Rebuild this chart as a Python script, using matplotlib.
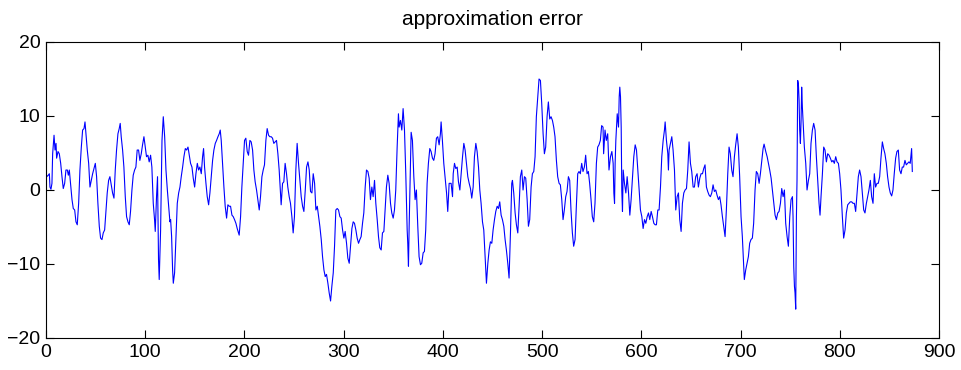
import matplotlib
matplotlib.use("Agg")
import matplotlib.pyplot as plt

# sample index
sample_x = [
0.7,2.3,3.4,4.0,5.0,6.0,6.7,8.1,9.1,10.1,10.7,12.1,13.4,14.8,16.1,17.4,18.8,20.1,21.5,22.5,23.5,24.8,26.2,27.5,28.9,30.2,31.5,32.9,34.2,35.6,36.9,38.3,39.3,40.3,41.6,43.0,44.3,45.6,47.0,48.3,49.7,51.0,52.3,53.7,55.0,56.4,57.7,59.1,60.4,61.7,63.1,64.4,65.8,67.1,68.5,69.8,71.1,72.5,73.8,74.8,75.8,77.2,78.5,79.9,81.2,82.6,83.9,85.2,86.6,87.9,89.3,90.6,91.9,93.3,94.6,96.0,97.3,98.7,100.0,101.3,102.7,104.0,105.4,106.7,108.1,109.4,110.1,111.4,112.4,113.4,114.1,
115.5,116.9,118.2,119.6,120.9,122.3,123.6,124.9,125.6,126.6,127.6,128.3,129.6,131.0,132.3,133.7,135.0,136.3,137.7,139.0,140.4,141.7,143.1,144.4,145.7,147.1,148.4,149.8,151.1,152.5,153.8,155.1,156.5,157.8,158.8,159.8,161.2,162.5,163.9,165.2,166.5,167.9,169.2,170.6,171.9,173.3,174.6,175.6,176.6,177.9,179.3,180.6,182.0,183.3,184.7,186.0,187.4,188.7,190.0,191.4,192.7,194.1,194.7,196.1,197.4,198.8,200.1,201.4,202.8,204.1,205.5,206.8,208.2,209.5,210.8,212.2,213.5,214.9,216.2,217.6,218.9,220.2,221.6,222.9,224.3,225.6,227.0,228.3,229.6,231.0,232.3,233.7,235.0,236.3,237.0,238.4,239.7,241.0,242.4,243.7,245.1,246.4,247.8,249.1,250.4,251.8,253.1,254.5,
257.2,258.6,259.9,261.3,262.6,264.0,265.3,266.6,268.0,269.3,270.7,272.0,273.4,274.7,276.0,277.4,278.7,280.1,281.4,282.7,284.1,285.4,286.8,288.1,289.5,290.8,292.1,293.5,294.8,296.2,297.5,298.9,300.2,301.5,302.9,304.2,305.6,306.9,308.3,309.6,310.9,312.3,313.6,315.0,316.3,317.6,319.0,320.3,321.7,323.0,324.4,325.7,327.0,328.4,329.7,331.1,332.4,333.8,335.1,336.4,337.8,339.1,340.5,341.8,343.1,344.5,345.8,347.2,348.5,349.9,351.2,352.5,353.9,355.2,355.9,357.2,358.6,359.9,361.3,362.6,364.0,364.6,365.3,366.0,367.3,368.0,369.3,370.7,372.0,373.3,374.7,376.0,377.4,378.7,380.1,381.4,382.7,384.1,385.4,386.8,388.1,389.5,390.8,392.1,393.5,394.8,396.2,397.5,398.2,399.5,400.9,402.2,403.7,404.9,406.3,
408.3,409.7,410.4,411.7,413.0,414.4,415.7,417.1,418.4,419.8,421.1,422.4,423.8,425.1,426.5,427.8,429.1,430.5,431.8,433.2,434.5,435.9,437.2,438.5,439.9,441.2,442.6,443.9,445.3,446.6,447.9,449.3,450.6,452.0,453.3,454.7,456.0,457.3,458.7,460.0,461.4,462.7,464.0,465.4,466.7,468.1,469.4,470.1,471.4,472.8,474.1,475.5,476.8,478.1,479.5,480.8,482.2,483.5,484.9,486.2,487.5,488.9,490.2,491.6,492.9,494.2,495.6,496.9,498.3,499.6,501.0,502.3,503.6,505.0,506.3,507.7,509.0,510.4,511.7,513.0,514.4,515.7,517.1,518.4,519.8,521.1,522.4,523.8,525.1,526.5,527.8,529.1,530.5,531.8,533.2,534.5,535.9,537.2,538.5,539.9,541.2,542.6,543.9,545.3,546.6,547.9,549.3,550.6,552.0,553.3,554.7,556.0,557.3,558.7,560.0,561.4,562.0,563.4,564.7,566.1,567.4,
568.9,570.3,571.6,572.3,573.0,573.6,574.3,575.7,577.0,577.7,578.3,579.0,579.7,580.3,581.0,581.7,583.0,584.4,585.7,587.1,588.4,589.7,591.1,592.4,593.8,595.1,596.5,597.8,599.1,600.5,601.8,603.2,604.5,605.9,607.2,608.5,609.9,611.2,612.6,613.9,615.2,616.6,617.9,619.3,620.6,622.0,623.3,624.0,625.3,626.7,627.3,628.0,629.3,630.7,632.0,633.4,634.7,636.1,637.4,638.7,640.1,641.4,642.8,644.1,645.5,646.8,648.1,649.5,650.8,652.2,653.5,654.8,656.2,657.5,658.9,660.2,661.6,662.9,664.2,665.6,666.9,668.3,669.6,671.0,672.3,673.6,675.0,676.3,677.7,679.0,680.3,681.7,683.0,684.4,685.7,687.1,688.4,689.7,691.1,692.4,693.8,695.1,696.5,697.8,699.1,700.5,701.8,703.2,703.8,705.2,706.5,707.9,709.2,710.5,711.9,713.2,714.6,715.9,717.3,
718.7,720.0,721.4,722.7,723.7,725.4,726.8,728.1,729.4,730.8,732.1,733.5,734.8,736.1,737.5,738.8,740.2,741.5,742.9,744.2,745.5,746.9,748.2,749.6,750.9,752.3,752.9,753.6,754.3,754.9,755.6,756.3,756.9,757.6,758.3,759.0,759.6,760.3,761.0,761.6,762.3,763.0,764.3,765.7,767.0,768.4,769.7,771.0,772.4,773.7,775.1,776.4,777.8,779.1,780.1,781.1,782.5,783.8,785.1,786.5,787.8,789.2,790.5,791.9,793.2,794.5,795.9,797.2,798.6,799.9,801.2,802.6,803.9,805.3,806.6,808.0,809.3,810.6,812.0,813.3,814.7,816.0,817.4,818.7,820.0,821.4,822.7,824.1,825.4,826.8,828.1,829.4,830.8,832.1,833.5,834.8,836.1,837.5,838.8,840.2,841.5,842.9,844.2,845.5,846.9,848.2,849.6,850.9,852.3,853.6,854.9,856.3,857.6,859.0,860.3,861.7,863.0,864.3,865.7,867.0,868.4,869.7,871.0,872.4,873.1,
]

# approximation error values
error_vals = [
1.8,2.0,2.2,0.4,0.1,0.9,4.9,7.4,5.4,6.3,4.3,5.2,4.9,3.6,1.8,0.2,0.9,2.7,2.7,2.0,2.7,0.7,-1.3,-2.5,-2.7,-4.3,-4.7,-1.8,2.7,5.8,8.1,8.3,9.2,7.6,5.4,3.6,0.4,1.3,2.2,2.9,3.6,1.8,-1.8,-4.9,-6.5,-6.7,-5.8,-5.4,-2.9,-0.4,1.3,1.8,0.7,-0.4,-1.1,2.7,5.4,7.6,8.3,9.0,7.2,5.4,3.1,-0.9,-3.6,-4.3,-4.7,-2.9,0.0,2.0,2.7,3.1,5.4,5.4,4.0,4.9,6.1,7.2,5.8,4.5,4.7,3.8,4.7,3.1,-1.8,-4.0,-5.6,-0.9,1.8,-9.4,-12.1,
-5.4,6.7,9.9,7.2,2.7,0.0,-2.2,-4.3,-4.0,-6.3,-10.8,-12.6,-11.2,-6.3,-1.8,-0.4,0.4,1.8,3.1,4.5,5.6,5.4,5.8,4.7,3.6,3.1,1.6,0.4,2.2,3.6,2.7,3.1,2.2,4.5,5.6,3.1,0.9,-0.9,-2.0,-0.4,1.8,4.0,5.4,6.3,6.7,7.2,7.6,8.1,6.7,3.6,0.4,-2.2,-3.8,-2.0,-2.2,-2.2,-3.4,-3.6,-4.0,-4.5,-5.2,-5.8,-6.1,-3.6,0.4,3.6,6.7,7.0,5.2,4.7,6.7,6.5,5.4,2.7,1.1,0.0,-1.3,-2.7,-0.9,1.8,2.7,3.4,6.7,8.3,7.4,7.2,7.2,7.0,6.3,6.5,6.7,4.9,2.7,-0.4,-2.0,0.9,1.1,3.6,2.2,0.4,-0.9,-1.8,-3.6,-5.8,-3.6,2.7,6.3,3.6,
-0.9,-2.2,-2.9,0.0,3.1,3.8,2.7,-0.2,-0.4,2.2,0.9,-2.7,-2.2,-3.6,-4.9,-6.7,-9.0,-10.8,-11.7,-11.4,-12.6,-13.9,-15.0,-13.0,-11.2,-7.6,-2.7,-2.5,-2.7,-3.6,-3.8,-5.4,-6.5,-5.6,-7.2,-9.2,-9.9,-7.6,-5.2,-4.3,-4.5,-5.4,-6.5,-7.2,-6.7,-6.3,-4.5,-3.1,0.4,2.7,2.5,1.6,-1.3,0.4,-0.9,1.3,-1.8,-4.0,-6.3,-7.8,-8.1,-5.8,-5.6,-2.7,0.4,2.0,0.9,-1.8,-3.1,-3.8,-2.7,0.0,5.8,10.3,8.5,9.4,8.1,11.0,8.1,2.2,-5.4,-7.2,-10.3,-4.9,3.6,7.8,6.7,1.8,-1.3,0.0,-4.9,-9.0,-10.1,-9.9,-8.5,-8.3,-5.4,0.9,3.6,5.6,5.2,4.3,4.0,4.9,7.0,7.2,6.1,7.6,9.2,6.7,3.6,1.8,-0.4,-2.9,0.9,
0.9,-0.9,2.2,3.6,2.9,3.1,1.1,0.0,2.2,4.5,6.3,5.4,3.6,1.8,0.9,0.2,-1.1,0.4,4.5,6.3,5.2,3.1,0.0,-1.8,-4.3,-5.4,-9.0,-12.6,-9.9,-8.1,-7.0,-7.2,-5.4,-4.0,-2.9,-2.2,-2.5,-1.6,-3.4,-4.0,-4.9,-6.7,-8.1,-9.9,-11.9,-5.8,0.9,1.3,-0.4,-3.1,-4.7,-5.8,-2.2,1.8,2.7,0.0,1.8,1.6,-1.3,-4.9,-4.0,0.4,2.2,2.5,4.5,9.9,12.6,15.0,14.8,11.7,7.6,4.9,5.8,9.9,11.9,9.6,9.9,9.4,8.5,7.2,4.0,1.8,0.9,0.7,-1.3,-4.0,-2.7,-0.9,-0.2,1.8,1.3,-2.7,-5.8,-7.6,-6.7,-2.2,2.2,2.5,2.2,3.6,2.5,3.1,4.7,2.2,2.5,0.9,-1.3,-3.6,-4.3,-1.8,3.6,5.8,6.1,6.7,8.7,8.5,4.9,8.1,6.7,7.6,2.7,
4.5,5.2,3.6,-0.4,-1.8,3.6,6.7,10.3,8.5,12.6,13.9,12.6,8.5,0.0,-2.9,2.7,0.9,-0.4,1.8,-0.4,-3.4,-1.3,1.8,4.5,6.1,5.4,2.7,0.0,-2.7,-3.6,-5.2,-4.0,-4.5,-3.6,-3.1,-4.0,-2.9,-3.6,-4.5,-4.7,-4.7,-2.7,-2.7,0.4,4.5,6.7,8.1,9.2,6.7,4.9,2.7,5.4,6.3,7.2,5.4,2.7,-2.7,-0.9,-0.4,-4.0,-5.6,-1.8,-0.4,0.0,0.2,2.7,6.5,3.6,2.5,0.4,0.4,1.8,2.2,0.4,1.6,2.2,2.2,2.9,3.4,0.4,-0.2,-0.7,-0.9,-0.4,0.7,-0.2,0.0,-0.7,-1.3,-0.9,-2.0,-3.6,-4.9,-6.3,-2.7,2.2,5.8,4.9,2.7,1.8,4.5,6.1,7.6,5.8,1.8,-3.6,-6.3,-10.3,-12.1,-10.8,-9.9,-9.0,-7.2,-6.7,-6.5,-4.5,0.0,2.5,2.2,
0.9,2.2,4.0,5.6,6.2,5.2,4.5,3.6,2.7,1.6,0.0,-1.8,-3.4,-4.0,-3.1,-2.9,-1.8,0.2,-0.9,0.0,-4.5,-6.3,-7.6,-3.6,-1.3,-0.9,-3.6,-10.3,-13.0,-13.9,-16.1,-3.6,1.3,14.8,14.3,12.1,8.1,6.3,9.4,13.9,11.2,9.4,5.8,3.6,0.0,1.3,2.2,6.3,8.1,9.0,8.1,4.5,1.3,-1.8,-3.4,-0.9,2.2,5.8,5.4,3.8,4.9,4.7,4.3,3.8,4.0,3.6,4.5,3.8,3.6,2.2,0.0,-3.6,-6.5,-5.4,-3.1,-2.0,-1.8,-1.6,-1.6,-1.8,-1.8,-2.9,-0.4,1.8,2.7,1.8,-0.4,-2.7,-3.1,-1.8,-0.9,0.0,1.3,-0.9,-1.8,2.2,0.4,0.9,0.9,1.8,4.3,6.5,5.6,4.9,3.6,1.8,0.4,-0.4,-0.8,0.0,2.2,4.3,5.2,5.4,2.7,2.2,3.1,3.1,4.0,3.4,3.6,3.8,3.6,5.6,2.5,
]

x_ticks = [0, 100, 200, 300, 400, 500, 600, 700, 800, 900]
y_ticks = [-20, -10, 0, 10, 20]
title_text = "approximation error"

plt.rcParams['font.family'] = ['Liberation Sans', 'DejaVu Sans']

fig = plt.figure(figsize=(9.62, 3.70), dpi=100)
ax = fig.add_axes([46/962, 1-338/370, (939-46)/962, (338-42)/370])
ax.plot(sample_x, error_vals, color=(0, 0, 1), linewidth=0.8)
ax.set_xlim(0, 900)
ax.set_ylim(-20, 20)
ax.set_xticks(x_ticks)
ax.set_yticks(y_ticks)
ax.tick_params(direction='in', length=6, width=0.8, top=True, right=True,
               labelsize=14, pad=4)
for s in ax.spines.values():
    s.set_linewidth(0.8)
ax.set_title(title_text, fontsize=15, pad=12)
fig.savefig("out.png", dpi=100)
